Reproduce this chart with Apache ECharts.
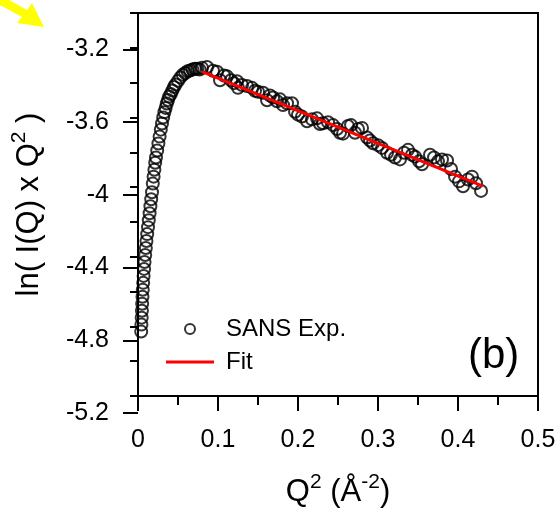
<!DOCTYPE html>
<html>
<head>
<meta charset="utf-8">
<script src="https://cdn.jsdelivr.net/npm/echarts@6/dist/echarts.min.js"></script>
<style>html,body{margin:0;padding:0;background:#fff}#c{width:559px;height:513px}</style>
</head>
<body>
<div id="c"></div>
<script>
// SANS experimental points: Q^2 (Å^-2) and ln(I(Q) x Q^2)
const expQ2 = [
  0.0040,0.0043,0.0046,0.0049,0.0052,0.0056,0.0060,0.0065,0.0070,0.0076,
  0.0082,0.0090,0.0098,0.0106,0.0115,0.0125,0.0135,0.0145,0.0155,0.0165,
  0.0175,0.0185,0.0195,0.0205,0.0215,0.0225,0.0240,0.0255,0.0270,0.0285,
  0.0300,0.0315,0.0330,0.0345,0.0360,0.0375,0.039,0.041,0.043,0.045,
  0.047,0.050,0.053,0.056,0.059,0.062,0.065,0.068,0.071,0.074,
  0.077,0.080,
  0.0863,0.0938,0.0988,0.1025,0.1075,0.1113,0.1163,0.1200,0.1238,0.1250,
  0.1300,0.1363,0.1425,0.1463,0.1500,0.1563,0.1613,0.1650,0.1688,0.1738,
  0.1775,0.1813,0.1863,0.1925,0.1963,0.2000,0.2050,0.2113,0.2175,0.2238,
  0.2275,0.2313,0.2375,0.2438,0.2488,0.2525,0.2563,0.2625,0.2663,0.2713,
  0.2750,0.2800,0.2863,0.2900,0.2938,0.3000,0.3050,0.3113,0.3163,0.3213,
  0.3275,0.3325,0.3375,0.3425,0.3463,0.3513,0.3550,0.3650,0.3700,0.3750,
  0.3800,0.3863,0.3913,0.3963,0.4013,0.4063,0.4125,0.4175,0.4225,0.4288
];
const expLn = [
  -4.83,-4.79,-4.75,-4.71,-4.67,-4.63,-4.59,-4.55,-4.51,-4.47,
  -4.43,-4.39,-4.35,-4.31,-4.27,-4.23,-4.19,-4.15,-4.11,-4.07,
  -4.03,-3.98,-3.94,-3.90,-3.86,-3.83,-3.79,-3.75,-3.71,-3.67,
  -3.635,-3.60,-3.57,-3.545,-3.52,-3.50,-3.48,-3.465,-3.445,-3.425,
  -3.41,-3.39,-3.37,-3.355,-3.345,-3.335,-3.33,-3.325,-3.32,-3.32,
  -3.325,-3.315,
  -3.310,-3.332,-3.337,-3.386,-3.359,-3.364,-3.386,-3.403,-3.392,-3.430,
  -3.414,-3.419,-3.430,-3.447,-3.452,-3.458,-3.501,-3.474,-3.485,-3.507,
  -3.496,-3.529,-3.518,-3.518,-3.567,-3.584,-3.595,-3.622,-3.611,-3.605,
  -3.638,-3.633,-3.627,-3.644,-3.666,-3.688,-3.693,-3.649,-3.644,-3.688,
  -3.666,-3.660,-3.715,-3.732,-3.748,-3.759,-3.775,-3.803,-3.814,-3.830,
  -3.841,-3.803,-3.786,-3.814,-3.825,-3.852,-3.869,-3.814,-3.830,-3.852,
  -3.841,-3.847,-3.896,-3.940,-3.967,-3.995,-3.956,-3.940,-3.978,-4.022
];
// Linear fit
const fitQ2 = [0.080, 0.431];
const fitLn = [-3.337, -3.995];

const xTicks = ['0','0.1','0.2','0.3','0.4','0.5'];

const FONT = 'Liberation Sans, Arial, sans-serif';
const expData = expQ2.map((x, i) => [x, expLn[i]]);
const fitData = fitQ2.map((x, i) => [x, fitLn[i]]);

const chart = echarts.init(document.getElementById('c'), null, {renderer: 'canvas'});
const richT = {
  n: {fontSize: 31, fontFamily: FONT, color: '#000', lineHeight: 36, verticalAlign: 'bottom'},
  s: {fontSize: 21, fontFamily: FONT, color: '#000', lineHeight: 34, verticalAlign: 'top'}
};
chart.setOption({
  animation: false,
  backgroundColor: '#fff',
  grid: [
    {left: 138, right: 21, top: 13, bottom: 100, show: true, borderColor: '#000', borderWidth: 2, backgroundColor: 'transparent'},
    {left: 138, right: 21, top: 49.5, bottom: 100, show: false}
  ],
  xAxis: [
    {
      type: 'value', gridIndex: 0, min: 0, max: 0.5, interval: 0.1,
      axisLine: {show: true, onZero: false, lineStyle: {color: '#000', width: 2}},
      axisTick: {show: true, inside: false, length: 15, lineStyle: {color: '#000', width: 2}},
      minorTick: {show: true, splitNumber: 2, length: 9, lineStyle: {color: '#000', width: 2}},
      splitLine: {show: false},
      axisLabel: {
        margin: 32, fontSize: 25, fontFamily: FONT, color: '#000',
        formatter: (v) => xTicks[Math.round(v * 10)]
      },
      name: '{n|Q}{s|2}{n| (Å}{s|-2}{n|)}',
      nameLocation: 'middle', nameGap: 76,
      nameTextStyle: {rich: richT}
    },
    {type: 'value', gridIndex: 1, min: 0, max: 0.5, show: false}
  ],
  yAxis: [
    {
      type: 'value', gridIndex: 0, min: -5.2, max: -3.0, interval: 0.2,
      axisLine: {show: true, onZero: false, lineStyle: {color: '#000', width: 2}},
      axisTick: {show: true, inside: false, length: 8, lineStyle: {color: '#000', width: 2}},
      splitLine: {show: false},
      axisLabel: {show: false},
      name: '{n|ln( I(Q) x Q}{s|2}{n| )}',
      nameLocation: 'middle', nameGap: 93, nameRotate: 90,
      nameTextStyle: {rich: richT}
    },
    {
      type: 'value', gridIndex: 1, min: -5.2, max: -3.2, interval: 0.4,
      axisLine: {show: false, onZero: false},
      axisTick: {show: true, inside: false, length: 15, lineStyle: {color: '#000', width: 2}},
      splitLine: {show: false},
      axisLabel: {margin: 29, fontSize: 25, fontFamily: FONT, color: '#000'}
    }
  ],
  legend: {
    left: 166, top: 317, orient: 'vertical', padding: 0,
    itemWidth: 48, itemHeight: 10, itemGap: 9,
    textStyle: {fontSize: 24, fontFamily: FONT, color: '#000', lineHeight: 24, padding: [0,0,0,7]},
    data: [
      {name: 'SANS Exp.', icon: 'circle', itemStyle: {color: 'rgba(0,0,0,0)', borderColor: '#000', borderWidth: 2}},
      {name: 'Fit', icon: 'path://M0 0H48V3H0Z', itemStyle: {color: '#ff0000', borderWidth: 0}}
    ]
  },
  graphic: [
    {type: 'polygon', shape: {points: [[2,-4],[27,10],[32,3],[44,27],[17,23],[22,17],[-2,4]]}, style: {fill: '#ffff00'}},
    {type: 'text', x: 468, y: 356, style: {text: '(b)', fontSize: 42, fontFamily: FONT, fill: '#000', textVerticalAlign: 'middle', textAlign: 'left'}}
  ],
  series: [
    {
      name: 'SANS Exp.', type: 'scatter', xAxisIndex: 0, yAxisIndex: 0,
      data: expData, symbol: 'circle', symbolSize: 12,
      itemStyle: {color: 'rgba(0,0,0,0)', borderColor: '#000', borderWidth: 2}
    },
    {
      name: 'Fit', type: 'line', xAxisIndex: 0, yAxisIndex: 0,
      data: fitData, symbol: 'none', showSymbol: false,
      lineStyle: {color: '#ff0000', width: 3}, itemStyle: {color: '#ff0000'}
    }
  ]
});
</script>
</body>
</html>
